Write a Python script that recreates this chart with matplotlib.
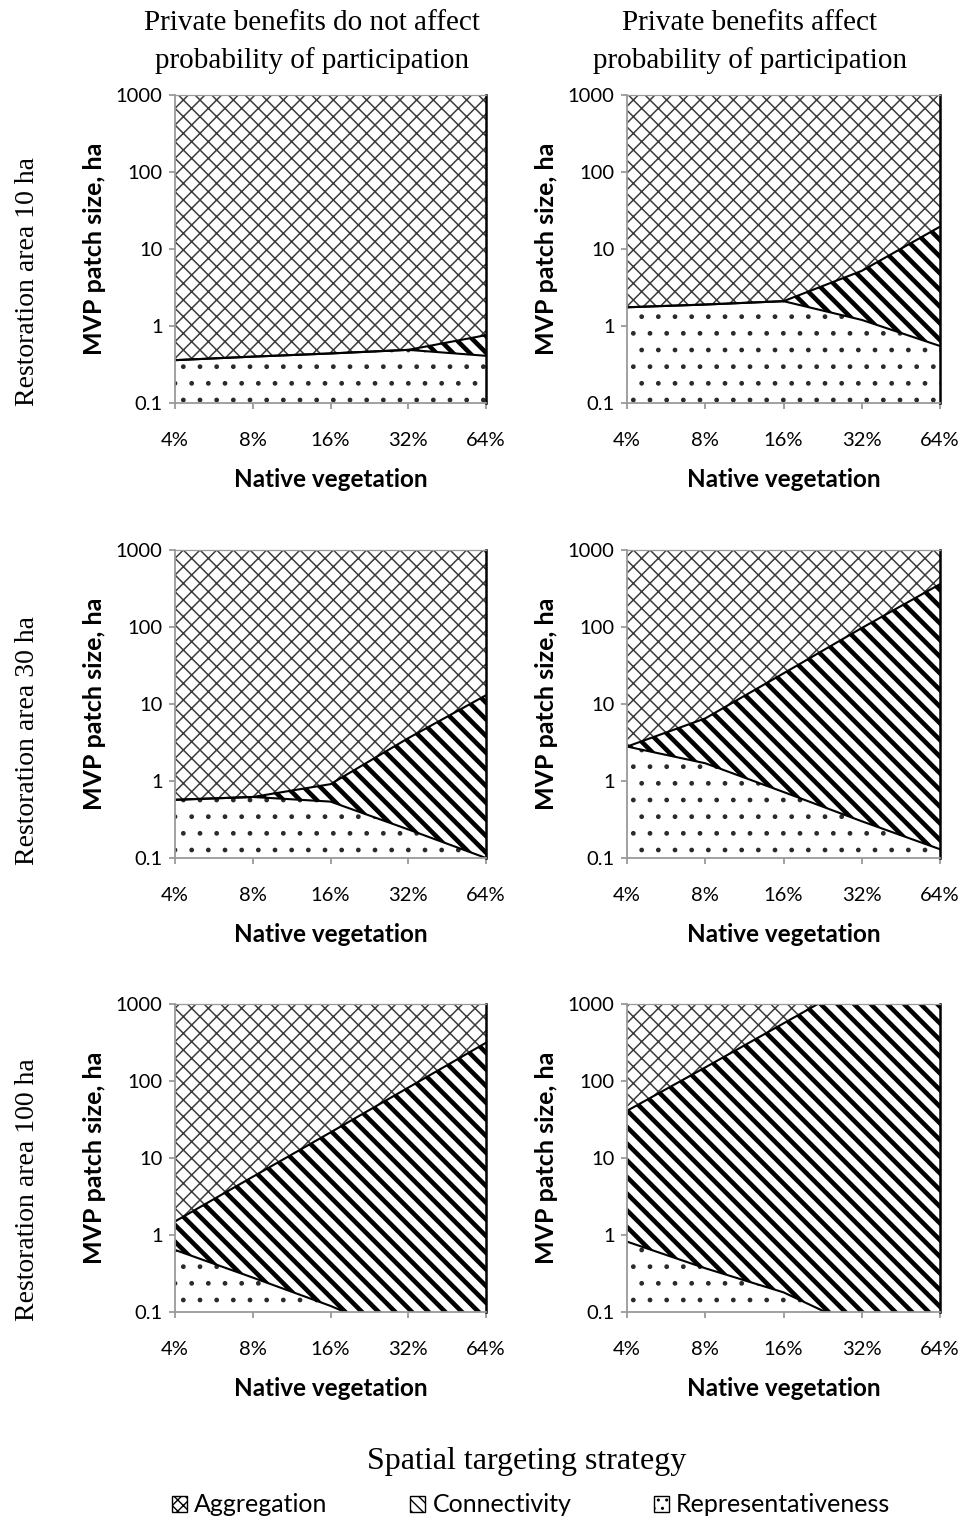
import matplotlib
matplotlib.use("Agg")
import matplotlib.pyplot as plt
from matplotlib.patches import Patch
import matplotlib.ticker as mticker

# ---------------- data ----------------
native_veg = [4, 8, 16, 32, 64]                     # % native vegetation
xtick_labels = ["4%", "8%", "16%", "32%", "64%"]
ytick_values = [0.1, 1, 10, 100, 1000]
ytick_labels = ["0.1", "1", "10", "100", "1000"]

col_titles = ["Private benefits do not affect\nprobability of participation",
              "Private benefits affect\nprobability of participation"]
row_titles = ["Restoration area 10 ha", "Restoration area 30 ha", "Restoration area 100 ha"]
strategies = ["Aggregation", "Connectivity", "Representativeness"]

# upper edge of Representativeness region (MVP patch size, ha)
rep_10_no = [0.36, 0.40, 0.44, 0.49, 0.41]
rep_10_yes = [1.75, 1.90, 2.10, 1.20, 0.55]
rep_30_no = [0.57, 0.62, 0.54, 0.235, 0.10]
rep_30_yes = [2.8, 1.70, 0.72, 0.30, 0.13]
rep_100_no = [0.64, 0.28, 0.12, 0.045, 0.02]
rep_100_yes = [0.82, 0.37, 0.18, 0.06, 0.02]

# upper edge of Connectivity region (MVP patch size, ha)
con_10_no = [0.36, 0.40, 0.44, 0.49, 0.76]
con_10_yes = [1.75, 1.90, 2.10, 5.2, 19.5]
con_30_no = [0.57, 0.62, 0.91, 3.6, 13.0]
con_30_yes = [2.8, 6.5, 25.0, 97.0, 360.0]
con_100_no = [1.5, 5.7, 21.5, 82.0, 314.0]
con_100_yes = [41.0, 150.0, 560.0, 2100.0, 8000.0]

panels = [
    [(rep_10_no, con_10_no), (rep_10_yes, con_10_yes)],
    [(rep_30_no, con_30_no), (rep_30_yes, con_30_yes)],
    [(rep_100_no, con_100_no), (rep_100_yes, con_100_yes)],
]

# ---------------- style ----------------
W, H = 968, 1526
DPI = 100
fig = plt.figure(figsize=(W / DPI, H / DPI), dpi=DPI)

SERIF = ["Liberation Serif", "DejaVu Serif"]
SANS = ["Lato", "DejaVu Sans"]

col_left = [175, 627]
col_width = [311, 313]
row_top = [95, 550, 1004]
row_h = 308

Y_MIN, Y_MAX = 0.1, 1000

agg_style = dict(facecolor="white", edgecolor="#3c3c3c", hatch="xx", linewidth=0)
con_style = dict(facecolor="white", edgecolor="black", hatch="\\\\", linewidth=0)
rep_style = dict(facecolor="white", edgecolor="#2a2a2a", hatch=".", linewidth=0)
AGG_LW, CON_LW, REP_LW = 1.1, 3.3, 1.0


def hatched_fill(ax, y1, y2, style, lw):
    with plt.rc_context({"hatch.linewidth": lw}):
        coll = ax.fill_between(native_veg, y1, y2, **style)
    if hasattr(coll, "set_hatch_linewidth"):
        try:
            coll.set_hatch_linewidth(lw)
        except Exception:
            pass
    return coll


for r in range(3):
    for c in range(2):
        rep, con = panels[r][c]
        left = col_left[c] / W
        bottom = 1 - (row_top[r] + row_h) / H
        ax = fig.add_axes([left, bottom, col_width[c] / W, row_h / H])
        ax.set_xscale("log", base=2)
        ax.set_yscale("log")
        ax.set_xlim(native_veg[0], native_veg[-1])
        ax.set_ylim(Y_MIN, Y_MAX)

        hatched_fill(ax, con, Y_MAX, agg_style, AGG_LW)
        hatched_fill(ax, rep, con, con_style, CON_LW)
        hatched_fill(ax, Y_MIN, rep, rep_style, REP_LW)

        ax.plot(native_veg, rep, color="black", lw=1.5, solid_joinstyle="miter")
        ax.plot(native_veg, con, color="black", lw=1.5, solid_joinstyle="miter")

        for s in ["left", "bottom", "top"]:
            ax.spines[s].set_color("#9a9a9a")
            ax.spines[s].set_linewidth(1.3)
        ax.spines["top"].set_linewidth(0.9)
        ax.spines["right"].set_color("black")
        ax.spines["right"].set_linewidth(1.8)

        ax.set_xticks(native_veg)
        ax.set_xticklabels(xtick_labels)
        ax.xaxis.set_minor_locator(mticker.NullLocator())
        ax.set_yticks(ytick_values)
        ax.set_yticklabels(ytick_labels)
        ax.yaxis.set_minor_locator(mticker.NullLocator())
        ax.tick_params(axis="both", direction="out", length=4, width=1.3,
                       color="#9a9a9a", labelsize=14.5)
        ax.tick_params(axis="x", pad=17)
        ax.tick_params(axis="y", pad=5)
        for lab in ax.get_xticklabels() + ax.get_yticklabels():
            lab.set_family(SANS)

        ax.set_xlabel("Native vegetation", fontsize=17.5, fontweight="bold", family=SANS)
        ax.xaxis.set_label_coords(0.5, -77 / row_h)
        ax.xaxis.label.set_verticalalignment("center")
        ax.set_ylabel("MVP patch size, ha", fontsize=18, fontweight="bold", family=SANS)
        ax.yaxis.set_label_coords(-80 / col_width[c], 0.5)
        ax.yaxis.label.set_verticalalignment("center")

# column titles
title_cx = [312, 750]
for c in range(2):
    fig.text(title_cx[c] / W, 1 - 42 / H, col_titles[c], ha="center", va="center",
             fontsize=21, family=SERIF, linespacing=1.5)

# row titles
row_centers = [282, 741, 1190]
for r in range(3):
    fig.text(28 / W, 1 - row_centers[r] / H, row_titles[r], rotation=90,
             ha="center", va="center", fontsize=20, family=SERIF)

fig.text(527 / W, 1 - 1461 / H, "Spatial targeting strategy", ha="center",
         va="center", fontsize=23, family=SERIF)

handles = [Patch(facecolor="white", edgecolor="black", hatch="xxx", linewidth=1.0),
           Patch(facecolor="white", edgecolor="black", hatch="\\\\\\", linewidth=1.0),
           Patch(facecolor="white", edgecolor="black", hatch="..", linewidth=1.0)]
leg = fig.legend(handles, strategies, loc="center", bbox_to_anchor=(531 / W, 1 - 1505 / H),
                 ncol=3, frameon=False, handlelength=0.6, handleheight=0.6,
                 handletextpad=0.3, columnspacing=3.3,
                 prop={"family": SANS, "size": 18})

fig.savefig("out.png", dpi=DPI)
